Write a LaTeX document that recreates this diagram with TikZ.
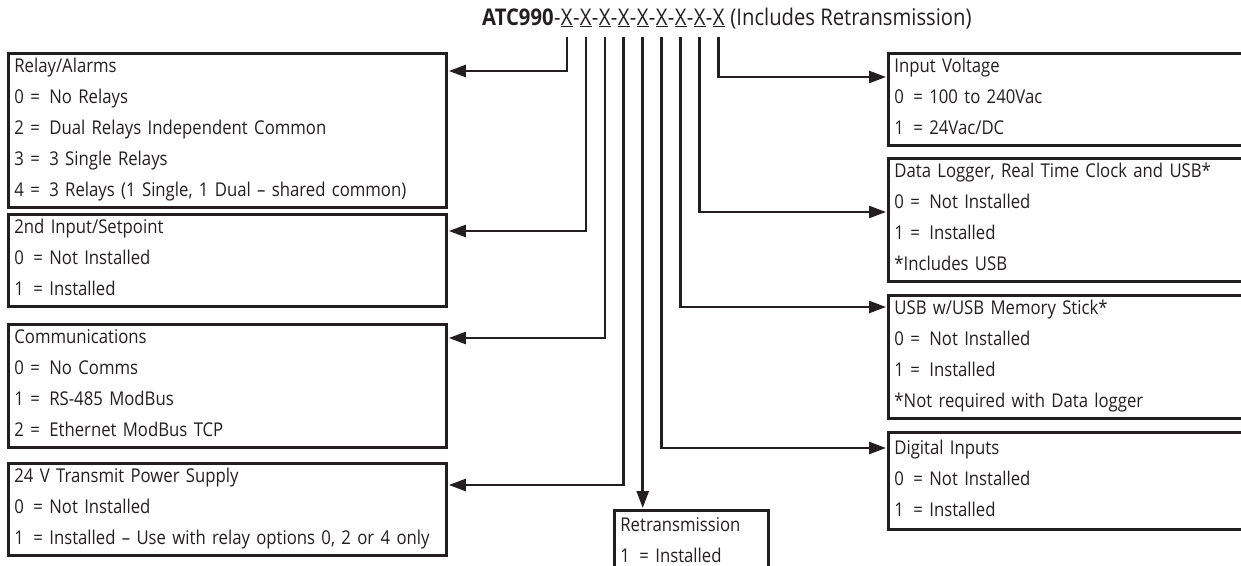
\documentclass[tikz,border=0pt]{standalone}
\usepackage{fontspec}
\setmainfont{Open Sans}[FakeStretch=0.88]
\usetikzlibrary{arrows.meta}
\definecolor{ink}{RGB}{35,31,32}
\newcommand\bst{\rule[-10.5pt]{0pt}{30pt}}
\begin{document}
\begin{tikzpicture}[x=1pt,y=-1pt,
  box/.style={draw=ink, line width=2.8pt, anchor=north west, inner xsep=6pt, inner ysep=0pt,
    align=left, font=\fontsize{19}{28}\selectfont, text=ink},
  lbox/.style={box, text width=426pt},
  rbox/.style={box, text width=400pt},
  conn/.style={draw=ink, line width=2.5pt, shorten >=1pt, -{Triangle[length=17pt,width=12pt]}},
  hd/.style={font=\fontsize{23}{28}\selectfont, text=ink, inner sep=0pt, anchor=base west}
]
\useasboundingbox (0,0) rectangle (1241,565);
\clip (0,0) rectangle (1241,565);

% header
\node[hd, anchor=base east] (atc) at (553.8,25) {\textbf{ATC990}};
\node[hd] (h1) at (atc.base east) {-};
\node[hd] (x1) at (h1.base east) {\underline{X}};
\node[hd] (h2) at (x1.base east) {-};
\node[hd] (x2) at (h2.base east) {\underline{X}};
\node[hd] (h3) at (x2.base east) {-};
\node[hd] (x3) at (h3.base east) {\underline{X}};
\node[hd] (h4) at (x3.base east) {-};
\node[hd] (x4) at (h4.base east) {\underline{X}};
\node[hd] (h5) at (x4.base east) {-};
\node[hd] (x5) at (h5.base east) {\underline{X}};
\node[hd] (h6) at (x5.base east) {-};
\node[hd] (x6) at (h6.base east) {\underline{X}};
\node[hd] (h7) at (x6.base east) {-};
\node[hd] (x7) at (h7.base east) {\underline{X}};
\node[hd] (h8) at (x7.base east) {-};
\node[hd] (x8) at (h8.base east) {\underline{X}};
\node[hd] (h9) at (x8.base east) {-};
\node[hd] (x9) at (h9.base east) {\underline{X}};
\node[hd] (inc) at ([xshift=5.5pt]x9.base east) {(Includes Retransmission)};
\foreach \i in {1,...,9}{ \coordinate (s\i) at (x\i.south |- 0,37); }

% left boxes
\node[lbox, minimum height=143pt] (relay) at (7,52) {\bst Relay/Alarms\\ \bst 0 =\ \,No Relays\\ \bst 2 =\ \,Dual Relays Independent Common\\ \bst 3 =\ \,3 Single Relays\\ \bst 4 =\ \,3 Relays (1 Single, 1 Dual -- shared common)};
\node[lbox, minimum height=92pt] (second) at (7,213) {\bst 2nd Input/Setpoint\\ \bst 0\ \,= Not Installed\\ \bst 1\ \,= Installed};
\node[lbox, minimum height=120pt] (comms) at (7,323) {\bst Communications\\ \bst 0 =\ \,No Comms\\ \bst 1 =\ \,RS-485 ModBus\\ \bst 2 =\ \,Ethernet ModBus TCP};
\node[lbox, minimum height=91pt] (tvps) at (7,462) {\bst 24 V Transmit Power Supply\\ \bst 0\ \,= Not Installed\\ \bst 1\ \,= Installed -- Use with relay options 0, 2 or 4 only};

% bottom box
\node[box, text width=142pt, minimum height=65pt] (retrans) at (613,509) {\bst Retransmission\\ \bst 1\ \,= Installed};

% right boxes
\node[rbox, minimum height=91pt] (inputv) at (887,52) {\bst Input Voltage\\ \bst 0\ \,= 100 to 240Vac\\ \bst 1\ \,= 24Vac/DC};
\node[rbox, minimum height=121pt] (datalog) at (887,157) {\bst Data Logger, Real Time Clock and USB*\\ \bst 0 =\ \,Not Installed\\ \bst 1 =\ \,Installed\\ \bst *Includes USB};
\node[rbox, minimum height=122pt] (usb) at (887,294) {\bst USB w/USB Memory Stick*\\ \bst 0 =\ \,Not Installed\\ \bst 1 =\ \,Installed\\ \bst *Not required with Data logger};
\node[rbox, minimum height=97pt] (digital) at (887,431) {\bst Digital Inputs\\ \bst 0\ \,= Not Installed\\ \bst 1\ \,= Installed};

% connectors
\draw[conn] (s1) |- ([yshift=-19pt]relay.north east);
\draw[conn] (s2) |- ([yshift=-18pt]second.north east);
\draw[conn] (s3) |- ([yshift=-15pt]comms.north east);
\draw[conn] (s4) |- ([yshift=-23pt]tvps.north east);
\draw[conn] (s5) -- (s5 |- retrans.north);
\draw[conn] (s6) |- ([yshift=-17pt]digital.north west);
\draw[conn] (s7) |- ([yshift=-13pt]usb.north west);
\draw[conn] (s8) |- ([yshift=-55pt]datalog.north west);
\draw[conn] (s9) |- ([yshift=-25pt]inputv.north west);
\end{tikzpicture}
\end{document}
